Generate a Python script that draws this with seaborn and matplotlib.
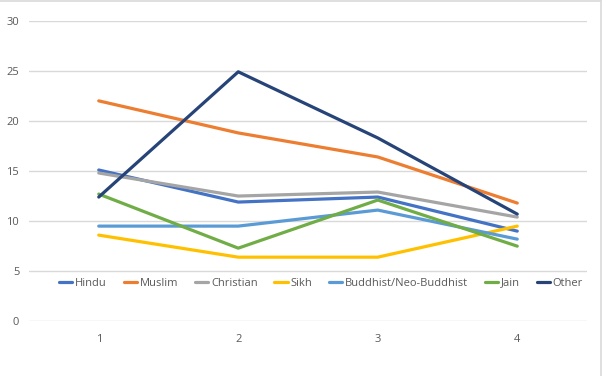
import matplotlib
matplotlib.use("Agg")
import matplotlib.pyplot as plt
import seaborn as sns
import pandas as pd
from matplotlib.lines import Line2D

x_vals = [1, 2, 3, 4]
hindu = [15.1, 11.9, 12.4, 9.0]
muslim = [22.0, 18.8, 16.4, 11.8]
christian = [14.8, 12.5, 12.9, 10.4]
sikh = [8.6, 6.4, 6.4, 9.5]
buddhist = [9.5, 9.5, 11.1, 8.2]
jain = [12.7, 7.3, 12.1, 7.5]
other = [12.4, 24.9, 18.3, 10.7]

series_names = ["Hindu", "Muslim", "Christian", "Sikh", "Buddhist/Neo-Buddhist", "Jain", "Other"]
series_vals = [hindu, muslim, christian, sikh, buddhist, jain, other]
colors = ["#4472C4", "#ED7D31", "#A5A5A5", "#FFC000", "#5B9BD5", "#70AD47", "#264478"]
y_ticks = [0, 5, 10, 15, 20, 25, 30]

rows = []
for name, vals in zip(series_names, series_vals):
    for x, v in zip(x_vals, vals):
        rows.append({"x": x, "value": v, "group": name})
df = pd.DataFrame(rows)

sns.set_theme(style="white")
plt.rcParams["font.family"] = ["Open Sans", "DejaVu Sans"]

fig = plt.figure(figsize=(6.02, 3.76), dpi=100)
ax = fig.add_axes([29 / 602, 1 - 321.3 / 376, (587 - 29) / 602, (321.3 - 20.7) / 376])

sns.lineplot(data=df, x="x", y="value", hue="group", hue_order=series_names,
             palette=colors, linewidth=2.3, ax=ax, legend=False, sort=False)

ax.set_xlim(0.5, 4.5)
ax.set_ylim(0, 30)
ax.set_yticks(y_ticks)
ax.set_xticks(x_vals)
ax.set_xticklabels([str(v) for v in x_vals])
ax.set_xlabel("")
ax.set_ylabel("")
ax.grid(axis="y", color="#d9d9d9", linewidth=1)
ax.grid(axis="x", visible=False)
ax.set_axisbelow(True)
for s in ax.spines.values():
    s.set_visible(False)
ax.tick_params(axis="both", length=0, labelsize=8, labelcolor="#595959")
ax.tick_params(axis="y", pad=7)
ax.tick_params(axis="x", pad=9)

handles = [Line2D([0], [0], color=c, linewidth=2.3) for c in colors]
fig.legend(handles, series_names, loc="center", bbox_to_anchor=(321 / 602, 1 - 283 / 376),
           ncol=7, frameon=False, fontsize=8, labelcolor="#595959",
           handlelength=1.2, handletextpad=0.25, columnspacing=1.5)

# chart-area border visible on the top and right edges only
fig.add_artist(Line2D([0, 600.5 / 602], [1 - 0.5 / 376, 1 - 0.5 / 376], transform=fig.transFigure,
                      color="#d9d9d9", linewidth=1.2))
fig.add_artist(Line2D([600.5 / 602, 600.5 / 602], [0, 1], transform=fig.transFigure,
                      color="#d9d9d9", linewidth=1.2))

fig.savefig("out.png", dpi=100)
